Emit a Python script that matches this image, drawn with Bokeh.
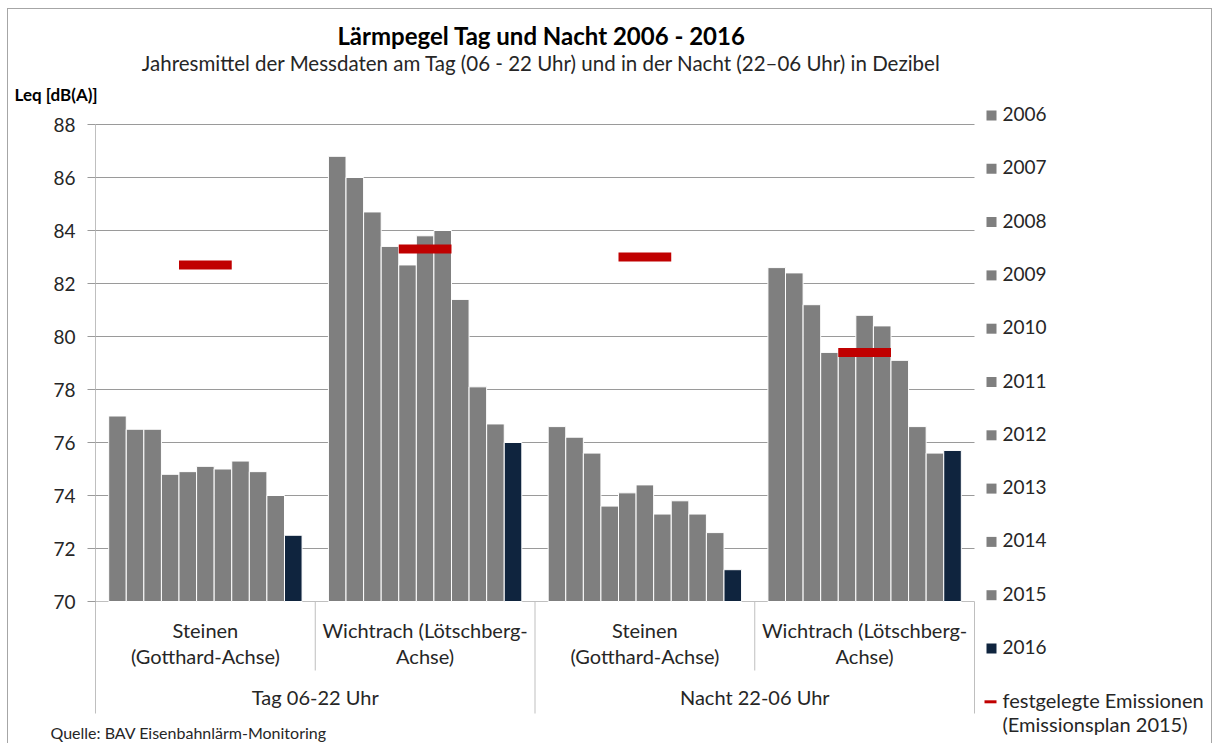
from bokeh.plotting import figure
from bokeh.models import Range1d, FixedTicker
from bokeh.core.properties import value
from bokeh.embed import file_html
from bokeh.resources import INLINE

# ---------------- data ----------------
years = ["2006", "2007", "2008", "2009", "2010", "2011",
         "2012", "2013", "2014", "2015", "2016"]
site_labels = ["Steinen\n(Gotthard-Achse)", "Wichtrach (Lötschberg-\nAchse)",
               "Steinen\n(Gotthard-Achse)", "Wichtrach (Lötschberg-\nAchse)"]
period_labels = ["Tag 06-22 Uhr", "Nacht 22-06 Uhr"]

steinen_tag = [77.0, 76.5, 76.5, 74.8, 74.9, 75.1, 75.0, 75.3, 74.9, 74.0, 72.5]
wichtrach_tag = [86.8, 86.0, 84.7, 83.4, 82.7, 83.8, 84.0, 81.4, 78.1, 76.7, 76.0]
steinen_nacht = [76.6, 76.2, 75.6, 73.6, 74.1, 74.4, 73.3, 73.8, 73.3, 72.6, 71.2]
wichtrach_nacht = [82.6, 82.4, 81.2, 79.4, 79.5, 80.8, 80.4, 79.1, 76.6, 75.6, 75.7]
emissionsplan = [82.7, 83.3, 83.0, 79.4]
y_ticks = [70, 72, 74, 76, 78, 80, 82, 84, 86, 88]

title = "Lärmpegel Tag und Nacht 2006 - 2016"
subtitle = ("Jahresmittel der Messdaten am Tag (06 - 22 Uhr) und in der "
            "Nacht (22–06 Uhr) in Dezibel")
y_label = "Leq [dB(A)]"
plan_label = ["festgelegte Emissionen", "(Emissionsplan 2015)"]
source_note = "Quelle:  BAV Eisenbahnlärm-Monitoring"

series = [steinen_tag, wichtrach_tag, steinen_nacht, wichtrach_nacht]

# ---------------- style ----------------
FONT = "Lato"
TXT = "#262626"
GRAY = "#7f7f7f"
NAVY = "#0f243e"
RED = "#c00000"
GRID = "#9a9a9a"
AXIS = "#bfbfbf"

W, H = 1205, 735            # canvas size
ORG_X, ORG_Y = 8, 9         # canvas origin on the page (margin + border)
PLOT_L, PLOT_R = 95, 974    # page x of category 0 and category 4
PLOT_B, PLOT_T = 601, 124   # page y of 70 dB and 88 dB
TEXT_SHIFT = -1.5           # visual centring correction for text (px)

Y0, Y1 = y_ticks[0], y_ticks[-1]
n_groups = len(series)
SX = (PLOT_R - PLOT_L) / n_groups
PX = (PLOT_B - PLOT_T) / (Y1 - Y0)


def X(px):
    return (px - PLOT_L) / SX


def Y(py):
    return Y0 + (PLOT_B - py) / PX


OFF = 0.06     # gap before first bar in a group (category units)
PITCH = 0.08   # bar width (category units)

p = figure(width=W, height=H,
           x_range=Range1d(X(ORG_X), X(ORG_X + W)),
           y_range=Range1d(Y(ORG_Y + H), Y(ORG_Y)),
           output_backend="svg", toolbar_location=None,
           x_axis_location=None, title_location=None,
           min_border=0, min_border_left=0, min_border_right=0,
           min_border_top=0, min_border_bottom=0)
p.styles = {"border-top": "1px solid #a6a6a6",
            "border-left": "1px solid #a6a6a6",
            "border-right": "1px solid #a6a6a6",
            "margin-left": "7px", "margin-top": "8px"}
p.outline_line_color = None
p.background_fill_color = "white"
p.border_fill_color = "white"
p.xgrid.visible = False
p.ygrid.visible = False

ax = p.yaxis[0]
ax.fixed_location = 0
ax.ticker = FixedTicker(ticks=y_ticks)
ax.axis_line_color = None
ax.major_tick_out = 8
ax.major_tick_in = 0
ax.major_tick_line_color = GRID
ax.minor_tick_out = 0
ax.minor_tick_in = 0
ax.major_label_standoff = 12
ax.major_label_text_font = FONT
ax.major_label_text_font_size = "19px"
ax.major_label_text_color = TXT

# gridlines (value axis) and axis lines
grid_vals = [t for t in y_ticks if t != Y0]
p.segment(x0=[0] * len(grid_vals), y0=grid_vals, x1=[n_groups] * len(grid_vals),
          y1=grid_vals, line_color=GRID, line_width=1)
p.segment(x0=[0], y0=[Y0], x1=[n_groups], y1=[Y0], line_color=AXIS, line_width=1)
y_axis_bottom = Y(713)
y_inner_bottom = Y(670)
p.segment(x0=[0], y0=[Y1], x1=[0], y1=[y_axis_bottom], line_color=AXIS, line_width=1)

# ---------------- bars ----------------
year_colors = [NAVY if i == len(years) - 1 else GRAY for i in range(len(years))]
for i, yr in enumerate(years):
    xs = [g + OFF + PITCH * (i + 0.5) for g in range(n_groups)]
    tops = [s[i] for s in series]
    p.vbar(x=xs, top=tops, bottom=Y0, width=PITCH,
           fill_color=year_colors[i], line_color="white", line_width=1)

# emission plan marks (span the 2010-2012 bars)
mid = years.index("2011")
p.rect(x=[g + OFF + PITCH * (mid + 0.5) for g in range(n_groups)],
       y=emissionsplan, width=3 * PITCH, height=9, height_units="screen",
       fill_color=RED, line_color=None)

# ---------------- category axis ----------------
inner_bounds = [g for g in range(1, n_groups) if g % 2 == 1]
outer_bounds = [g for g in range(2, n_groups + 1, 2)]
p.segment(x0=inner_bounds, y0=[Y0] * len(inner_bounds), x1=inner_bounds,
          y1=[y_inner_bottom] * len(inner_bounds), line_color=AXIS, line_width=1)
p.segment(x0=outer_bounds, y0=[Y0] * len(outer_bounds), x1=outer_bounds,
          y1=[y_axis_bottom] * len(outer_bounds), line_color=AXIS, line_width=1)


def txt(xs, pys, texts, size, align="left", bold=False, color=TXT):
    p.text(x=xs, y=[Y(py + TEXT_SHIFT) for py in pys], text=texts,
           text_align=align, text_baseline="middle",
           text_font=value(FONT), text_font_size=size,
           text_font_style="bold" if bold else "normal", text_color=color)


line1 = [s.split("\n")[0] for s in site_labels]
line2 = [s.split("\n")[1] for s in site_labels]
centers = [g + 0.5 for g in range(n_groups)]
txt(centers, [631] * n_groups, line1, "20px", "center")
txt(centers, [657] * n_groups, line2, "20px", "center")
txt([1 + 2 * k for k in range(len(period_labels))], [698] * len(period_labels),
    period_labels, "20px", "center")

# ---------------- titles ----------------
txt([X(541)], [36], [title], "24px", "center", bold=True, color="black")
txt([X(541)], [64], [subtitle], "20.5px", "center")
txt([X(14)], [95], [y_label], "17px", "left", bold=True, color="black")
txt([X(50)], [733], [source_note], "16px", "left")

# ---------------- legend ----------------
LEG_Y0, LEG_STEP = 115, 53.3
leg_py = [LEG_Y0 + LEG_STEP * i for i in range(len(years))]
p.rect(x=[X(991)] * len(years), y=[Y(v) for v in leg_py], width=10, height=10,
       width_units="screen", height_units="screen",
       fill_color=year_colors, line_color=None)
txt([X(1002)] * len(years), leg_py, years, "19px")
plan_y = LEG_Y0 + LEG_STEP * len(years)
p.segment(x0=[X(984)], y0=[Y(plan_y)], x1=[X(996)], y1=[Y(plan_y)],
          line_color=RED, line_width=3)
txt([X(1002)] * 2, [plan_y, plan_y + 24], plan_label, "20px")

open("out.html", "w").write(file_html(p, INLINE))
